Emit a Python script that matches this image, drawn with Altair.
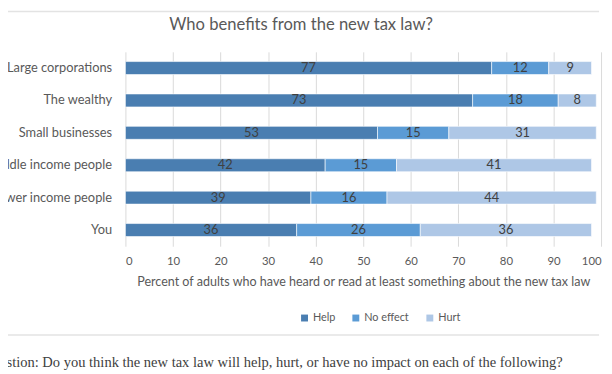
import altair as alt
import pandas as pd

categories = ["Large corporations", "The wealthy", "Small businesses",
              "Middle income people", "Lower income people", "You"]
responses = ["Help", "No effect", "Hurt"]
help_vals = [77, 73, 53, 42, 39, 36]
noeffect_vals = [12, 18, 15, 15, 16, 26]
hurt_vals = [9, 8, 31, 41, 44, 36]
colors = ["#4a7eb1", "#5b9bd5", "#aec7e6"]
x_ticks = [0, 10, 20, 30, 40, 50, 60, 70, 80, 90, 100]
title_text = "Who benefits from the new tax law?"
question = "Question: Do you think the new tax law will help, hurt, or have no impact on each of the following?"

rows = []
for i, c in enumerate(categories):
    for j, (r, v) in enumerate(zip(responses, [help_vals[i], noeffect_vals[i], hurt_vals[i]])):
        rows.append({"cat": c, "resp": r, "value": v, "ord": j})
df = pd.DataFrame(rows)

FONT = "Lato"
GRAY = "#595959"

base = alt.Chart(df).transform_stack(
    stack="value", as_=["x0", "x1"], groupby=["cat"], sort=[alt.SortField("ord")]
).transform_calculate(mid="(datum.x0 + datum.x1) / 2")

yenc = alt.Y("cat:N", sort=categories,
             scale=alt.Scale(paddingInner=0.6, paddingOuter=0.3),
             axis=alt.Axis(title=None, domain=False, ticks=False, labelPadding=14,
                           labelFontSize=13, labelColor=GRAY, labelFont=FONT, grid=False,
                           labelLimit=300))

bars = base.mark_bar(stroke="white", strokeWidth=0.6).encode(
    x=alt.X("x0:Q", scale=alt.Scale(domain=[0, 100], nice=False),
            axis=alt.Axis(values=x_ticks, title="Percent of adults who have heard or read at least something about the new tax law",
                          domain=False, ticks=False, grid=True, gridColor="#d9d9d9",
                          labelFontSize=11.5, labelColor=GRAY, labelFont=FONT, labelPadding=10,
                          titleFontSize=12.7, titleColor=GRAY, titleFont=FONT, titleFontWeight="normal",
                          titlePadding=8)),
    x2="x1:Q",
    y=yenc,
    color=alt.Color("resp:N", sort=responses,
                    scale=alt.Scale(domain=responses, range=colors),
                    legend=alt.Legend(title=None, orient="none", direction="horizontal",
                                      legendX=176, legendY=264, symbolType="square",
                                      symbolSize=49, symbolStrokeWidth=0, labelFontSize=11,
                                      labelColor=GRAY, labelFont=FONT, labelOffset=3,
                                      columnPadding=15)),
    order=alt.Order("ord:Q"),
)

labels = base.mark_text(font=FONT, fontSize=13, color="#404040").encode(
    x="mid:Q", y=alt.Y("cat:N", sort=categories), text="value:Q"
)

tdf = pd.DataFrame({"t": [title_text]})
ttext = alt.Chart(tdf).mark_text(align="center", baseline="middle", font=FONT,
                                 fontSize=16.8, color=GRAY).encode(
    x=alt.value(178), y=alt.value(-27), text="t:N")

qdf = pd.DataFrame({"t": [question]})
qtext = alt.Chart(qdf).mark_text(align="left", baseline="middle", font="Liberation Serif",
                                 fontSize=14.7, color="#404040").encode(
    x=alt.value(-145), y=alt.value(315), text="t:N")

sep = alt.Chart(qdf).mark_rule(color="#e3e3e3", strokeWidth=1.5).encode(
    x=alt.value(-130), x2=alt.value(480), y=alt.value(287))
topline = alt.Chart(qdf).mark_rule(color="#e3e3e3", strokeWidth=1.5).encode(
    x=alt.value(-130), x2=alt.value(480), y=alt.value(-41))

chart = alt.layer(bars, labels, ttext, qtext, sep, topline).properties(
    width=482, height=197,
    autosize=alt.AutoSizeParams(type="none"),
    padding={"left": 119, "top": 42, "right": 3, "bottom": 124},
).configure_view(stroke=None)

chart.save("out.html", embed_options={"renderer": "svg", "actions": False})
